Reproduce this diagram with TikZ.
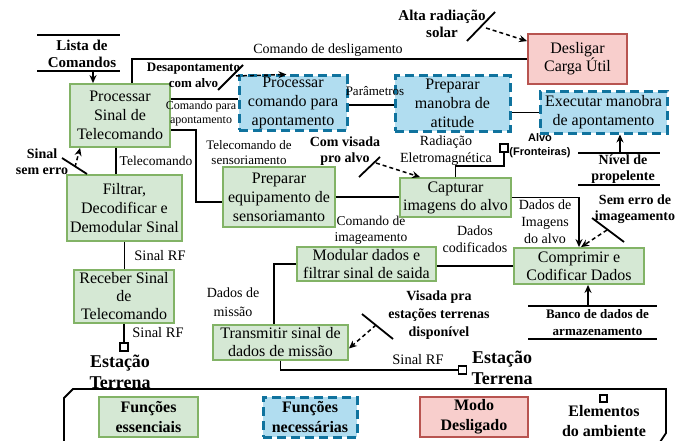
\documentclass[tikz,border=0pt]{standalone}
\usepackage{fontspec}
\setmainfont{Liberation Serif}
\newfontfamily\arialfont{Liberation Sans}
\usetikzlibrary{arrows.meta}
\definecolor{gfill}{HTML}{D5E8D4}
\definecolor{gline}{HTML}{82B366}
\definecolor{bfill}{HTML}{B1DDF0}
\definecolor{bline}{HTML}{10739E}
\definecolor{rfill}{HTML}{F8CECC}
\definecolor{rline}{HTML}{B85450}
\newcommand\myfs[2]{\fontsize{#1}{#2}\selectfont}
\begin{document}
\begin{tikzpicture}[x=1pt,y=-1pt,
  ess/.style={draw=gline, fill=gfill, line width=1.8pt, inner sep=0pt, align=center, font=\myfs{16}{19}},
  nec/.style={draw=bline, fill=bfill, line width=3pt, dash pattern=on 9pt off 5pt, inner sep=0pt, align=center, font=\myfs{16}{19}},
  offm/.style={draw=rline, fill=rfill, line width=1.8pt, inner sep=0pt, align=center, font=\myfs{16}{18}},
  lbl/.style={inner sep=0pt, align=center, font=\myfs{14}{17}},
  slbl/.style={inner sep=0pt, align=center, font=\myfs{12}{13.5}},
  blbl/.style={inner sep=0pt, align=center, font=\bfseries\myfs{14}{16}},
  conn/.style={line width=1.8pt},
  arr/.style={conn, -{Stealth[length=8pt,width=7pt]}},
  darr/.style={arr, line width=1.5pt, dash pattern=on 4pt off 3pt},
  slash/.style={line width=1.8pt},
  envsq/.style={draw, line width=1.5pt, fill=white, minimum size=8pt, inner sep=0pt}
]
\useasboundingbox (0,0) rectangle (690,441);

% ---------- boxes ----------
\node[ess, minimum width=100pt, minimum height=63pt] (proc) at (120,115.5) {Processar\\Sinal de\\Telecomando};
\node[nec, minimum width=108pt, minimum height=54pt] (pcmd) at (293,103) {Processar\\comando para\\apontamento};
\node[nec, minimum width=115pt, minimum height=55pt] (prep) at (452.5,103.5) {Preparar\\manobra de\\atitude};
\node[nec, minimum width=127pt, minimum height=41pt] (exec) at (603.5,112.5) {Executar manobra\\de apontamento};
\node[offm, minimum width=99pt, minimum height=50pt] (desl) at (577.5,59) {Desligar\\Carga Útil};
\node[ess, minimum width=111pt, minimum height=39pt, font=\myfs{16}{18}] (capt) at (455.5,197.5) {Capturar\\imagens do alvo};
\node[ess, minimum width=112pt, minimum height=60pt] (peq) at (279,197) {Preparar\\equipamento de\\sensoriamanto};
\node[ess, minimum width=115pt, minimum height=66pt] (filt) at (124.5,208) {Filtrar,\\Decodificar e\\Demodular Sinal};
\node[ess, minimum width=100pt, minimum height=53pt, font=\myfs{16}{18}] (rec) at (124,296.5) {Receber Sinal\\de\\Telecomando};
\node[ess, minimum width=130pt, minimum height=36pt, font=\myfs{16}{18}] (comp) at (579,266) {Comprimir e\\Codificar Dados};
\node[ess, minimum width=139pt, minimum height=34pt, font=\myfs{16}{18}] (mod) at (366.5,264) {Modular dados e\\filtrar sinal de saida};
\node[ess, minimum width=135pt, minimum height=35pt, font=\myfs{16}{18}] (trans) at (280.5,342.5) {Transmitir sinal de\\dados de missão};

% environment squares
\node[envsq] (gs1) at (124,347) {};
\node[envsq] (gs2) at (462.5,370) {};
\node[envsq] (alvo) at (504,148) {};

% ---------- external texts ----------
\coordinate (lt1) at (37,35); \coordinate (lt2) at (120,35);
\coordinate (lb1) at (37,71); \coordinate (lb2) at (120,71);
\draw[line width=1.2pt] (lt1) -- (lt2);
\draw[line width=1.2pt] (lb1) -- (lb2);
\node[blbl, font=\bfseries\myfs{15}{17}] (lista) at (82,53.5) {Lista de\\Comandos};

\coordinate (nt1) at (578,153); \coordinate (nt2) at (660,153);
\coordinate (nb1) at (578,185); \coordinate (nb2) at (660,185);
\draw[line width=1.2pt] (nt1) -- (nt2);
\draw[line width=1.2pt] (nb1) -- (nb2);
\node[blbl] (nivel) at (623,169) {Nível de\\propelente};

\coordinate (bt1) at (528,306); \coordinate (bt2) at (657,306);
\coordinate (bb1) at (528,339); \coordinate (bb2) at (657,339);
\draw[line width=1.2pt] (bt1) -- (bt2);
\draw[line width=1.2pt] (bb1) -- (bb2);
\node[blbl, font=\bfseries\myfs{13}{17}] (banco) at (597.5,323) {Banco de dados de\\armazenamento};

\node[blbl, font=\bfseries\myfs{15}{17}] (alta) at (442,23.5) {Alta radiação\\solar};
\node[blbl, font=\bfseries\myfs{13}{16}] (desap) at (193.5,75) {Desapontamento\\com alvo};
\node[blbl] (visada) at (345,151) {Com visada\\pro alvo};
\node[blbl] (semerro) at (42,161.5) {Sinal\\sem erro};
\node[blbl] (semimg) at (635,209) {Sem erro de\\imageamento};
\node[blbl, font=\bfseries\myfs{14}{18}] (vest) at (439,315) {Visada pra\\estações terrenas\\disponível};
\node[inner sep=0pt, align=center, font=\arialfont\bfseries\myfs{11}{14}] (alvotxt) at (540,146) {Alvo\\(Fronteiras)};
\node[blbl, font=\bfseries\myfs{18}{21}] (est1) at (120,371.5) {Estação\\Terrena};
\node[blbl, font=\bfseries\myfs{18}{21}] (est2) at (502,367.5) {Estação\\Terrena};

% ---------- connectors ----------
\coordinate (lc) at (93,71);
\draw[arr] (lc) -- (lc |- proc.north);

\coordinate (dk) at (132,0);
\draw[conn] (dk |- proc.north) |- (desl.west);
\node[lbl] (ldesl) at (328,50) {Comando de desligamento};

\coordinate (cp) at (0,99);
\draw[conn] (proc.east |- cp) -- (pcmd.west |- cp);
\node[slbl] (lcpa) at (201,113.5) {Comando para\\apontamento};

\coordinate (pp) at (0,105);
\draw[conn] (pcmd.east |- pp) -- (prep.west |- pp);
\node[lbl, font=\myfs{13}{15}] (lpar) at (375,91) {Parâmetros};

\draw[conn] (prep.east |- exec.west) -- (exec.west);

\coordinate (tk) at (196,130);
\draw[conn] (proc.east |- tk) -- (tk) |- ([yshift=-5pt]peq.west);
\node[lbl, font=\myfs{13}{15}] (ltel) at (249,152.5) {Telecomando de\\sensoriamento};

\draw[conn] (peq.east) -- (capt.west |- peq.east);
\node[lbl, font=\myfs{13.5}{16}] (lcim) at (371,230) {Comando de\\imageamento};

\coordinate (fk) at (116,0);
\draw[conn] (proc.south -| fk) -- (filt.north -| fk);
\node[lbl, font=\myfs{13.5}{16}] (ltc) at (156,161) {Telecomando};

\draw[conn] (filt.south) -- (filt.south |- rec.north);
\node[lbl, font=\myfs{14.5}{17}] (lrf1) at (160,256) {Sinal RF};

\draw[conn] (rec.south) -- (gs1.north);
\node[lbl, font=\myfs{14.5}{17}] (lrf2) at (158,333) {Sinal RF};

\coordinate (ak) at (0,166);
\draw[conn] (alvo.south) -- (alvo.south |- ak) -| (capt.north);
\node[lbl] (lrad) at (446,151) {Radiação\\Eletromagnética};

\draw[arr] (capt.east) -| (comp.north);
\node[lbl] (ldim) at (545,222) {Dados de\\Imagens\\do alvo};

\draw[conn] (comp.west) -- (comp.west -| mod.east);
\node[lbl] (ldcod) at (475,239) {Dados\\codificados};

\coordinate (mk) at (274,0);
\draw[conn] (mod.west) -| (mk |- trans.north);
\node[lbl, font=\myfs{14}{19}] (ldm) at (233,302.5) {Dados de\\missão};

\draw[conn] (trans.south) |- (gs2.west);
\node[lbl, font=\myfs{14.5}{17}] (lrf3) at (418,360) {Sinal RF};

\coordinate (bk) at (588,306);
\draw[arr] (bk) -- (bk |- comp.south);

\coordinate (nk) at (620,153);
\draw[arr] (nk) -- (nk |- exec.south);

% ---------- conditions: slashes and dashed arrows ----------
\draw[slash] (218,90) -- (243,65);
\coordinate (d1) at (236,76);
\draw[darr] (d1) -- ([xshift=49pt]pcmd.north west);

\draw[slash] (467,41) -- (495,12);
\coordinate (d2) at (486,28);
\draw[darr] (d2) -- ([yshift=-8pt]desl.north west);

\draw[slash] (359,177) -- (380,157);
\coordinate (d3) at (376,163);
\draw[darr] (d3) -- ([xshift=21pt]capt.north west);

\draw[slash] (592,218) -- (624,242);
\coordinate (d4) at (607,230);
\draw[darr] (d4) -- ([xshift=2pt]comp.north);

\draw[slash] (362,314) -- (393,339);
\coordinate (d5) at (376,325);
\draw[darr] (d5) -- ([yshift=-6pt]trans.east);

\draw[slash] (62,158) -- (87,174);
\coordinate (d6) at (75,167);
\draw[darr] (d6) -- ([xshift=11pt]proc.south west);

% ---------- legend ----------
\draw[line width=1.8pt] (64,445) -- (64,398) -- (73,389) -- (666,389) -- (666,433) -- (658,445);
\node[ess, minimum width=99pt, minimum height=40pt, font=\bfseries\myfs{16}{20}] (kess) at (148.5,417) {Funções\\essenciais};
\node[nec, minimum width=94pt, minimum height=40pt, font=\bfseries\myfs{16}{20}] (knec) at (310,417) {Funções\\necessárias};
\node[offm, minimum width=108pt, minimum height=40pt, font=\bfseries\myfs{16}{20}] (koff) at (474,417) {Modo\\Desligado};
\node[envsq, minimum size=7pt] (kenv) at (603.5,398.5) {};
\node[blbl, font=\bfseries\myfs{16}{20}] (kenvt) at (604,421) {Elementos\\do ambiente};
\end{tikzpicture}
\end{document}
